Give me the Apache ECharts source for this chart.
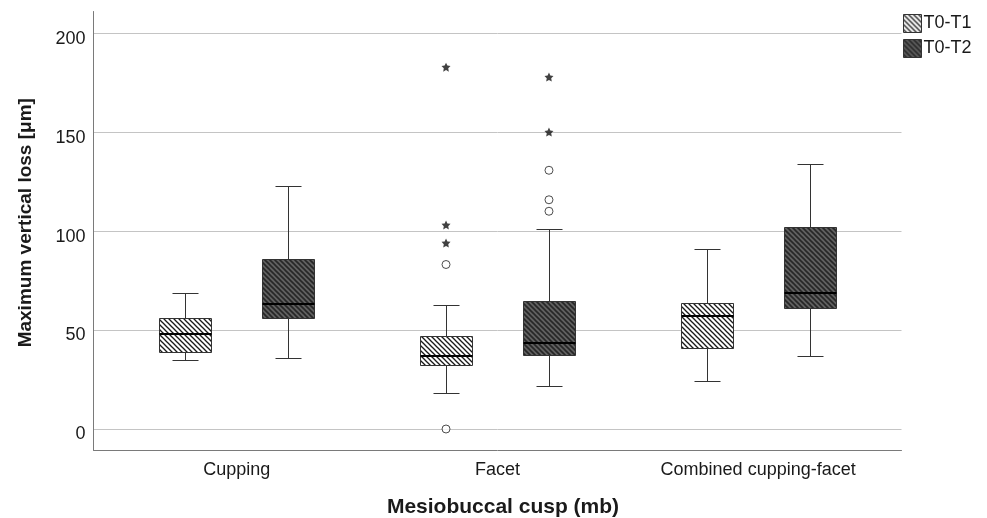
<!DOCTYPE html>
<html><head><meta charset="utf-8">
<script src="https://cdn.jsdelivr.net/npm/echarts@6/dist/echarts.min.js"></script>
<style>html,body{margin:0;padding:0;background:#fff}#c{width:987px;height:518px}</style>
</head><body><div id="c"></div>
<script>
// ---- data ----
const categories = ['Cupping', 'Facet', 'Combined cupping-facet'];
const seriesNames = ['T0-T1', 'T0-T2'];
const yTicks = [0, 50, 100, 150, 200];
// [min whisker, Q1, median, Q3, max whisker] per category
const t0t1Stats = [[34.9, 38.7, 48.0, 55.9, 68.9], [18.0, 32.4, 37.1, 47.0, 62.8], [24.1, 40.9, 57.1, 63.9, 90.8]];
const t0t2Stats = [[36.0, 55.9, 63.0, 86.1, 123.0], [21.9, 37.4, 43.5, 64.9, 100.9], [36.9, 61.0, 68.9, 101.9, 133.8]];
// [category index, value]
const t0t1Outliers = [[1, 83.1], [1, 0]];
const t0t1Extremes = [[1, 182.8], [1, 103.1], [1, 94.0]];
const t0t2Outliers = [[1, 130.7], [1, 115.8], [1, 110.0]];
const t0t2Extremes = [[1, 177.8], [1, 150.0]];

// ---- layout / style ----
const groupOffset = [-0.1975, 0.1975];
const FONT = 'Liberation Sans, Arial, sans-serif';
const TXT = '#1a1a1a';

function makePattern(bg, fg, p, w) {
  const c = document.createElement('canvas');
  c.width = p; c.height = p;
  const g = c.getContext('2d');
  g.fillStyle = bg; g.fillRect(0, 0, p, p);
  g.strokeStyle = fg; g.lineWidth = w;
  for (let k = -2; k <= 2; k++) {
    g.beginPath(); g.moveTo(k * p - p, -p); g.lineTo(k * p + 2 * p, 2 * p); g.stroke();
  }
  return { image: c, repeat: 'repeat' };
}
const fills = [makePattern('#ffffff', '#1a1a1a', 5, 1.3), makePattern('#606060', '#262626', 5, 1.6)];

function boxRenderer(si) {
  return function (params, api) {
    const x = api.value(0) + groupOffset[si];
    const pMin = api.coord([x, api.value(1)]);
    const pQ1 = api.coord([x, api.value(2)]);
    const pMed = api.coord([x, api.value(3)]);
    const pQ3 = api.coord([x, api.value(4)]);
    const pMax = api.coord([x, api.value(5)]);
    const bw = Math.round(api.size([0.2, 0])[0]);
    const cx = Math.round(pMed[0]) + 0.5;
    const hw = bw / 2, cw = bw / 4;
    const r = v => Math.round(v) + 0.5;
    const ls = { stroke: '#333', lineWidth: 1 };
    return {
      type: 'group',
      children: [
        { type: 'line', shape: { x1: cx, y1: r(pMax[1]), x2: cx, y2: r(pQ3[1]) }, style: ls },
        { type: 'line', shape: { x1: cx, y1: r(pQ1[1]), x2: cx, y2: r(pMin[1]) }, style: ls },
        { type: 'line', shape: { x1: cx - cw, y1: r(pMax[1]), x2: cx + cw, y2: r(pMax[1]) }, style: ls },
        { type: 'line', shape: { x1: cx - cw, y1: r(pMin[1]), x2: cx + cw, y2: r(pMin[1]) }, style: ls },
        { type: 'rect', shape: { x: cx - hw, y: r(pQ3[1]), width: bw, height: r(pQ1[1]) - r(pQ3[1]) },
          style: { fill: fills[si], stroke: '#333', lineWidth: 1 } },
        { type: 'line', shape: { x1: cx - hw, y1: Math.round(pMed[1]), x2: cx + hw, y2: Math.round(pMed[1]) },
          style: { stroke: '#000', lineWidth: 2 } }
      ]
    };
  };
}

const starPath = 'path://M0,-10 L2.9,-4 L9.5,-3.1 L4.7,1.5 L5.9,8.1 L0,5 L-5.9,8.1 L-4.7,1.5 L-9.5,-3.1 L-2.9,-4 Z';
function shift(list, si) { return list.map(d => [d[0] + groupOffset[si], d[1]]); }

const chart = echarts.init(document.getElementById('c'), null, { renderer: 'canvas' });
chart.setOption({
  animation: false,
  backgroundColor: '#fff',
  grid: { left: 93.5, right: 85.5, top: 11.5, bottom: 68, containLabel: false, outerBoundsMode: 'none' },
  legend: {
    orient: 'vertical', left: 903, top: 14, padding: 0, itemWidth: 18, itemHeight: 18, itemGap: 6,
    textStyle: { fontFamily: FONT, fontSize: 18, color: TXT, padding: [0, 0, 0, -3] },
    data: seriesNames.map((n, i) => ({ name: n, icon: 'rect', itemStyle: { color: fills[i], borderColor: '#333', borderWidth: 1 } }))
  },
  xAxis: {
    type: 'value', min: -0.55, max: 2.55,
    name: 'Mesiobuccal cusp (mb)', nameLocation: 'middle', nameGap: 47,
    nameTextStyle: { fontFamily: FONT, fontSize: 21, fontWeight: 'bold', color: TXT, padding: [0, 0, 0, 11] },
    axisLine: { show: true, onZero: false, lineStyle: { color: '#7a7a7a', width: 1 } },
    axisTick: { show: false, customValues: [0, 1, 2] },
    splitLine: { show: false },
    axisLabel: { customValues: [0, 1, 2], formatter: v => categories[Math.round(v)], margin: 11,
      fontFamily: FONT, fontSize: 18, color: TXT }
  },
  yAxis: {
    type: 'value', min: -10.6, max: 210.9,
    name: 'Maximum vertical loss [μm]', nameLocation: 'middle', nameGap: 58,
    nameTextStyle: { fontFamily: FONT, fontSize: 19, fontWeight: 'bold', color: TXT, padding: [0, 0, 0, 16] },
    axisLine: { show: true, onZero: false, lineStyle: { color: '#7a7a7a', width: 1 } },
    axisTick: { show: false, customValues: yTicks },
    splitLine: { show: true, lineStyle: { color: '#c4c4c4', width: 1 } },
    axisLabel: { customValues: yTicks, margin: 8, verticalAlign: 'top', lineHeight: 11,
      fontFamily: FONT, fontSize: 18, color: TXT }
  },
  series: [
    { name: seriesNames[0], type: 'custom', renderItem: boxRenderer(0),
      encode: { x: 0, y: [1, 2, 3, 4, 5] }, data: t0t1Stats.map((s, i) => [i].concat(s)), z: 3 },
    { name: seriesNames[1], type: 'custom', renderItem: boxRenderer(1),
      encode: { x: 0, y: [1, 2, 3, 4, 5] }, data: t0t2Stats.map((s, i) => [i].concat(s)), z: 3 },
    { name: 'T0-T1 outliers', type: 'scatter', data: shift(t0t1Outliers, 0), symbol: 'circle', symbolSize: 8,
      itemStyle: { color: '#fff', borderColor: '#222', borderWidth: 1 }, z: 4 },
    { name: 'T0-T2 outliers', type: 'scatter', data: shift(t0t2Outliers, 1), symbol: 'circle', symbolSize: 8,
      itemStyle: { color: '#fff', borderColor: '#222', borderWidth: 1 }, z: 4 },
    { name: 'T0-T1 extremes', type: 'scatter', data: shift(t0t1Extremes, 0), symbol: starPath, symbolSize: 9,
      itemStyle: { color: '#111' }, z: 4 },
    { name: 'T0-T2 extremes', type: 'scatter', data: shift(t0t2Extremes, 1), symbol: starPath, symbolSize: 9,
      itemStyle: { color: '#111' }, z: 4 }
  ]
});
</script></body></html>
